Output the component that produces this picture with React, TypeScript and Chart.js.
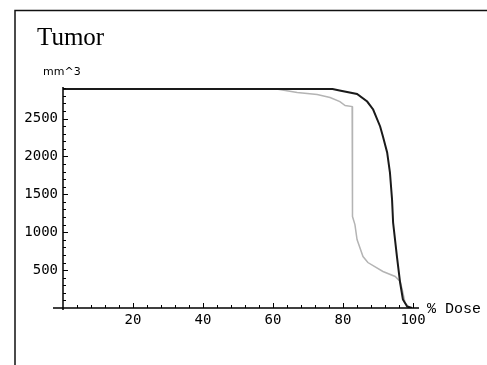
import React, { useEffect, useRef } from "react";
import { Chart, registerables } from "chart.js";

Chart.register(...registerables);

// Dose (% of prescription) and tumour volume (mm^3)
const doseBlack = [0, 60, 77, 79, 84, 86.9, 88.6, 90.6, 91.4, 92.6, 93.4, 94.0, 94.3, 95.4, 96.3, 97.1, 98.3, 99.7];
const volumeBlack = [2890, 2890, 2890, 2870, 2823, 2724, 2619, 2395, 2263, 2052, 1788, 1431, 1128, 679, 336, 112, 20, 0];

const doseGray = [0, 61, 66.9, 72.6, 76.3, 79.1, 80.6, 82.6, 82.7, 83.4, 84.0, 85.7, 87.1, 91.4, 94.9, 96.3, 96.9, 97.7, 98.6, 99.4];
const volumeGray = [2890, 2890, 2843, 2817, 2777, 2724, 2672, 2658, 1207, 1100, 904, 679, 600, 482, 416, 350, 244, 73, 20, 0];

const xTickValues = [20, 40, 60, 80, 100];
const yTickValues = [500, 1000, 1500, 2000, 2500];

const titleText = "Tumor";
const yUnitText = "mm^3";
const xUnitText = "% Dose";

const X_MAX = 101.7;
const Y_MAX = 2916;

const decorPlugin = {
  id: "decor",
  afterDraw(chart: any) {
    const ctx = chart.ctx;
    const xs = chart.scales.x;
    const ys = chart.scales.y;
    const x0 = xs.getPixelForValue(0);
    const y0 = ys.getPixelForValue(0);
    ctx.save();
    // frame
    ctx.strokeStyle = "#111";
    ctx.lineWidth = 1.5;
    ctx.beginPath();
    ctx.moveTo(15, 365);
    ctx.lineTo(15, 10.5);
    ctx.lineTo(487, 10.5);
    ctx.stroke();

    // axes
    ctx.strokeStyle = "#000";
    ctx.lineWidth = 1.5;
    ctx.beginPath();
    ctx.moveTo(x0 - 10, y0);
    ctx.lineTo(xs.getPixelForValue(X_MAX), y0);
    ctx.moveTo(x0, y0 + 2);
    ctx.lineTo(x0, ys.getPixelForValue(Y_MAX));
    ctx.stroke();

    ctx.lineWidth = 1;
    ctx.beginPath();
    for (let v = 4; v <= 100; v += 4) {
      const px = Math.round(xs.getPixelForValue(v)) + 0.5;
      const len = v % 20 === 0 ? 5 : 3;
      ctx.moveTo(px, y0);
      ctx.lineTo(px, y0 - len);
    }
    for (let v = 100; v <= 2900; v += 100) {
      const py = Math.round(ys.getPixelForValue(v)) + 0.5;
      const len = v % 500 === 0 ? 5 : 3;
      ctx.moveTo(x0, py);
      ctx.lineTo(x0 + len, py);
    }
    ctx.stroke();

    // texts
    ctx.fillStyle = "#000";
    ctx.textBaseline = "alphabetic";
    ctx.textAlign = "left";
    ctx.font = '25px "Liberation Serif"';
    ctx.fillText(titleText, 37, 45);
    ctx.font = '11px "DejaVu Sans"';
    ctx.fillText(yUnitText, 43, 75);
    ctx.font = '15px "Liberation Mono"';
    ctx.fillText(xUnitText, 427, 313);
    ctx.restore();
  },
};

export default function App() {
  const ref = useRef<HTMLCanvasElement | null>(null);
  useEffect(() => {
    if (!ref.current) return;
    const chart = new Chart(ref.current, {
      type: "line",
      data: {
        datasets: [
          {
            label: "black",
            data: doseBlack.map((d, i) => ({ x: d, y: volumeBlack[i] })),
            borderColor: "#1a1a1a",
            borderWidth: 2,
            pointRadius: 0,
            tension: 0,
            fill: false,
          },
          {
            label: "gray",
            data: doseGray.map((d, i) => ({ x: d, y: volumeGray[i] })),
            borderColor: "#b4b4b4",
            borderWidth: 1.5,
            pointRadius: 0,
            tension: 0,
            fill: false,
          },
        ],
      },
      options: {
        responsive: false,
        animation: false,
        devicePixelRatio: 1,
        layout: { padding: { left: 0, top: 87, right: 487 - 419, bottom: 0 } },
        plugins: {
          legend: { display: false },
          title: { display: false },
          tooltip: { enabled: false },
        },
        scales: {
          x: {
            type: "linear",
            min: 0,
            max: X_MAX,
            grid: { display: false, drawTicks: false },
            border: { display: false },
            afterBuildTicks: (s: any) => {
              s.ticks = xTickValues.map((v) => ({ value: v }));
            },
            afterFit: (s: any) => {
              s.height = 365 - 308;
            },
            ticks: {
              autoSkip: false,
              maxRotation: 0,
              padding: 4,
              color: "#000",
              font: { family: '"DejaVu Sans Mono"', size: 14 },
              callback: (v: any) => String(v),
            },
          },
          y: {
            type: "linear",
            min: 0,
            max: Y_MAX,
            grid: { display: false, drawTicks: false },
            border: { display: false },
            afterBuildTicks: (s: any) => {
              s.ticks = yTickValues.map((v) => ({ value: v }));
            },
            afterFit: (s: any) => {
              s.width = 63;
            },
            ticks: {
              autoSkip: false,
              padding: 5,
              color: "#000",
              font: { family: '"DejaVu Sans Mono"', size: 14 },
              callback: (v: any) => String(v),
            },
          },
        },
      },
      plugins: [decorPlugin],
    });
    return () => chart.destroy();
  }, []);
  return (
    <div style={{ position: "absolute", left: 0, top: 0, width: 487, height: 365, background: "#fff" }}>
      <canvas ref={ref} width={487} height={365} style={{ display: "block" }} />
    </div>
  );
}
